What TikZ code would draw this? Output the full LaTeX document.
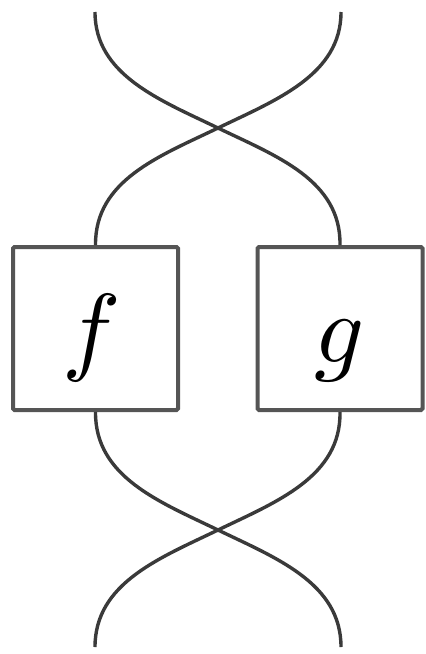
\documentclass[tikz,border=0pt]{standalone}
\usepackage{graphicx}
\definecolor{wire}{HTML}{3A3A3A}
\definecolor{boxline}{HTML}{555555}
\newcommand{\bigsym}[1]{\scalebox{9.8}{$#1$}}
\tikzset{
  morph/.style={draw=boxline, line width=4pt, rounded corners=1.5pt, minimum width=165pt, minimum height=163pt, inner sep=0pt, fill=white, text height=100pt, text depth=33pt},
  strand/.style={draw=wire, line width=3.4pt}
}
\begin{document}
\begin{tikzpicture}[x=1pt,y=-1pt]
\useasboundingbox (0,0) rectangle (426,654);
\node[morph] (f) at (95.5,328.5) {\hspace*{-8pt}\bigsym{f}};
\node[morph] (g) at (340,328.5) {\bigsym{g}};
\coordinate (tl) at (95,12);
\coordinate (tr) at (341,12);
\coordinate (ct) at (218,128);
\coordinate (bl) at (95,647);
\coordinate (br) at (341,647);
\coordinate (cb) at (218,530);
% top crossing
\draw[strand] (tl) .. controls (95,75) and (160,100) .. (ct) .. controls (276,156) and (341,180) .. (g.north);
\draw[strand] (tr) .. controls (341,75) and (276,100) .. (ct) .. controls (160,156) and (95,180) .. (f.north);
% bottom crossing
\draw[strand] (f.south) .. controls (95,477) and (160,502) .. (cb) .. controls (276,558) and (341,583) .. (br);
\draw[strand] (g.south) .. controls (341,477) and (276,502) .. (cb) .. controls (160,558) and (95,583) .. (bl);
\end{tikzpicture}
\end{document}
